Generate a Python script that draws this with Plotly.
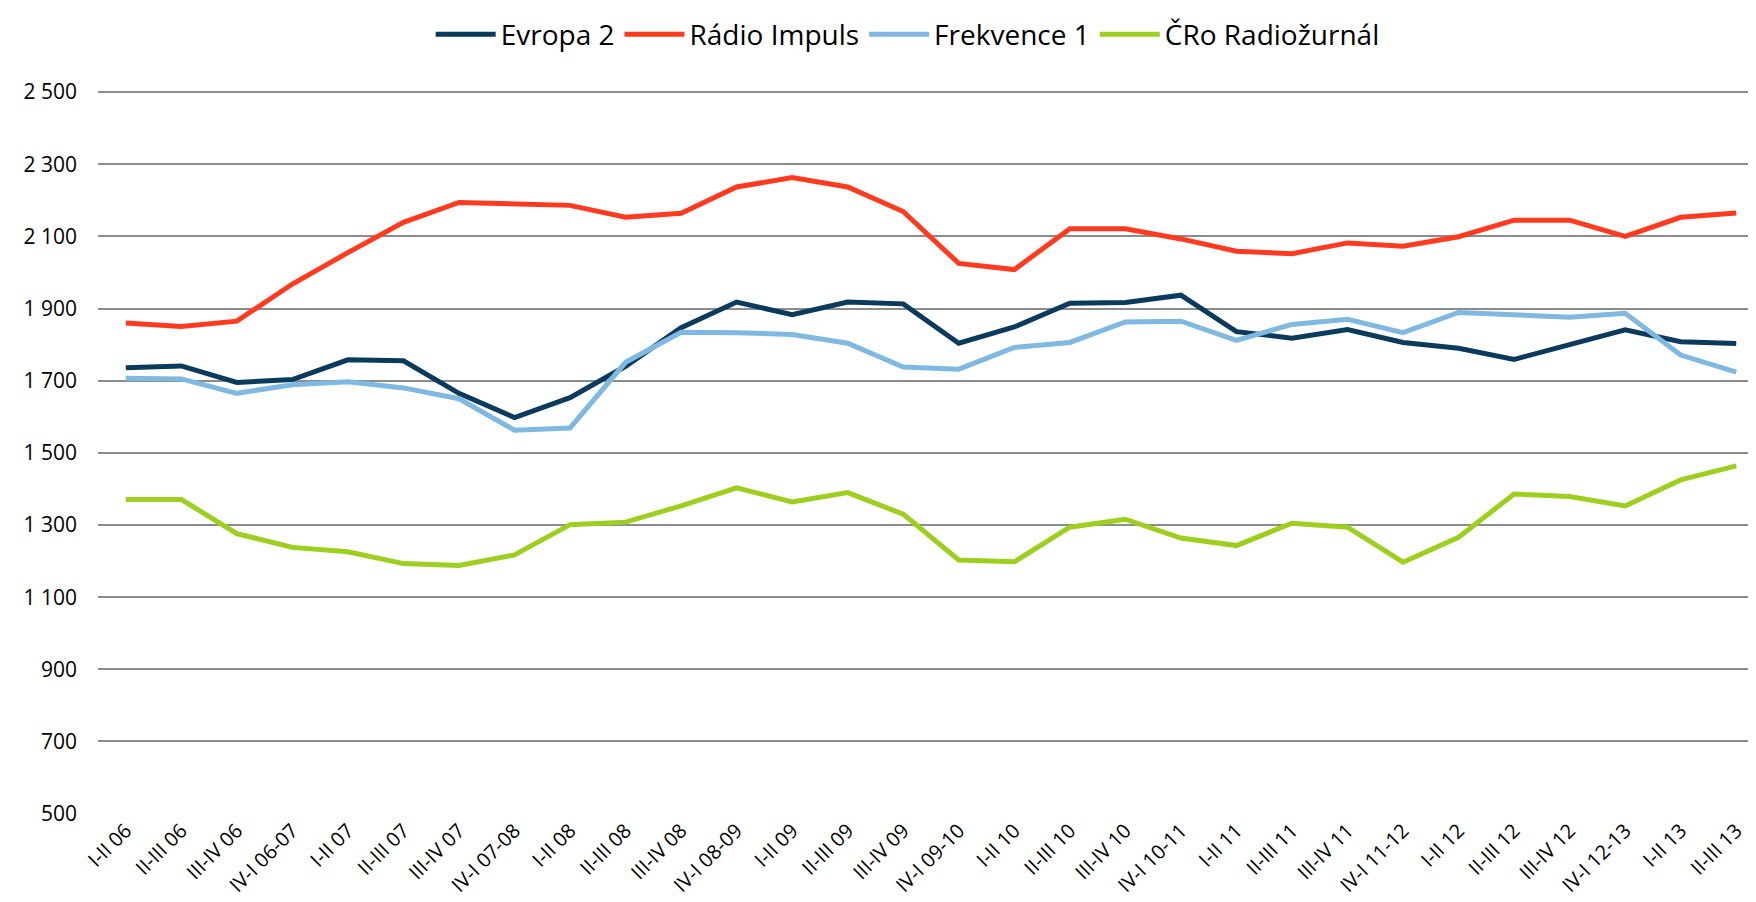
import plotly.graph_objects as go

categories = ["I-II 06", "II-III 06", "III-IV 06", "IV-I 06-07", "I-II 07", "II-III 07", "III-IV 07",
              "IV-I 07-08", "I-II 08", "II-III 08", "III-IV 08", "IV-I 08-09", "I-II 09", "II-III 09",
              "III-IV 09", "IV-I 09-10", "I-II 10", "II-III 10", "III-IV 10", "IV-I 10-11", "I-II 11",
              "II-III 11", "III-IV 11", "IV-I 11-12", "I-II 12", "II-III 12", "III-IV 12", "IV-I 12-13",
              "I-II 13", "II-III 13"]

evropa2 = [1736, 1741, 1695, 1703, 1758, 1755, 1665, 1598, 1653, 1740, 1847, 1918, 1883, 1918, 1913,
           1804, 1849, 1915, 1917, 1937, 1836, 1818, 1842, 1806, 1790, 1759, 1800, 1841, 1808, 1803]
impuls = [1860, 1850, 1865, 1968, 2055, 2139, 2194, 2189, 2186, 2153, 2164, 2237, 2263, 2237, 2169,
          2025, 2008, 2121, 2121, 2093, 2059, 2052, 2082, 2073, 2099, 2145, 2145, 2100, 2153, 2165]
frekvence1 = [1707, 1705, 1665, 1689, 1697, 1680, 1650, 1563, 1569, 1751, 1834, 1833, 1828, 1804, 1738,
              1732, 1792, 1806, 1863, 1865, 1812, 1856, 1870, 1833, 1889, 1881, 1876, 1887, 1771, 1724]
radiozurnal = [1371, 1371, 1276, 1238, 1226, 1193, 1188, 1217, 1301, 1308, 1353, 1403, 1364, 1390, 1330,
               1203, 1198, 1294, 1316, 1264, 1243, 1305, 1294, 1197, 1266, 1386, 1379, 1353, 1425, 1464]

series_names = ["Evropa 2", "Rádio Impuls", "Frekvence 1", "ČRo Radiožurnál"]
series_values = [evropa2, impuls, frekvence1, radiozurnal]
colors = ["#0A3A5C", "#FF3A1E", "#7FB8E0", "#9CCF1E"]

y_ticks = list(range(500, 2501, 200))
y_ticktext = [f"{v:,}".replace(",", " ") for v in y_ticks]

fig = go.Figure()
for name, vals, col in zip(series_names, series_values, colors):
    fig.add_trace(go.Scatter(x=categories, y=vals, mode="lines", name=name,
                             line=dict(color=col, width=5)))

fig.update_layout(
    width=1756, height=902,
    paper_bgcolor="white", plot_bgcolor="white",
    margin=dict(l=90, r=0, t=83, b=96, autoexpand=False),
    font=dict(family="Open Sans, sans-serif", color="#000000"),
    legend=dict(orientation="h", x=0.486, xanchor="center", y=1.078, yanchor="middle",
                font=dict(size=28), itemwidth=60, tracegroupgap=0),
    showlegend=True,
)
fig.update_xaxes(type="category", range=[-0.5, 29.5], showgrid=False, showline=False, zeroline=False,
                 tickangle=-45, tickfont=dict(size=20), ticks="", automargin=False)
fig.update_yaxes(range=[499, 2503], tickvals=y_ticks, ticktext=y_ticktext, showgrid=True,
                 gridcolor="#8C8C8C", gridwidth=2, zeroline=False, showline=False,
                 tickfont=dict(size=21), ticklabelstandoff=20, automargin=False)

fig.write_html("out.html")
